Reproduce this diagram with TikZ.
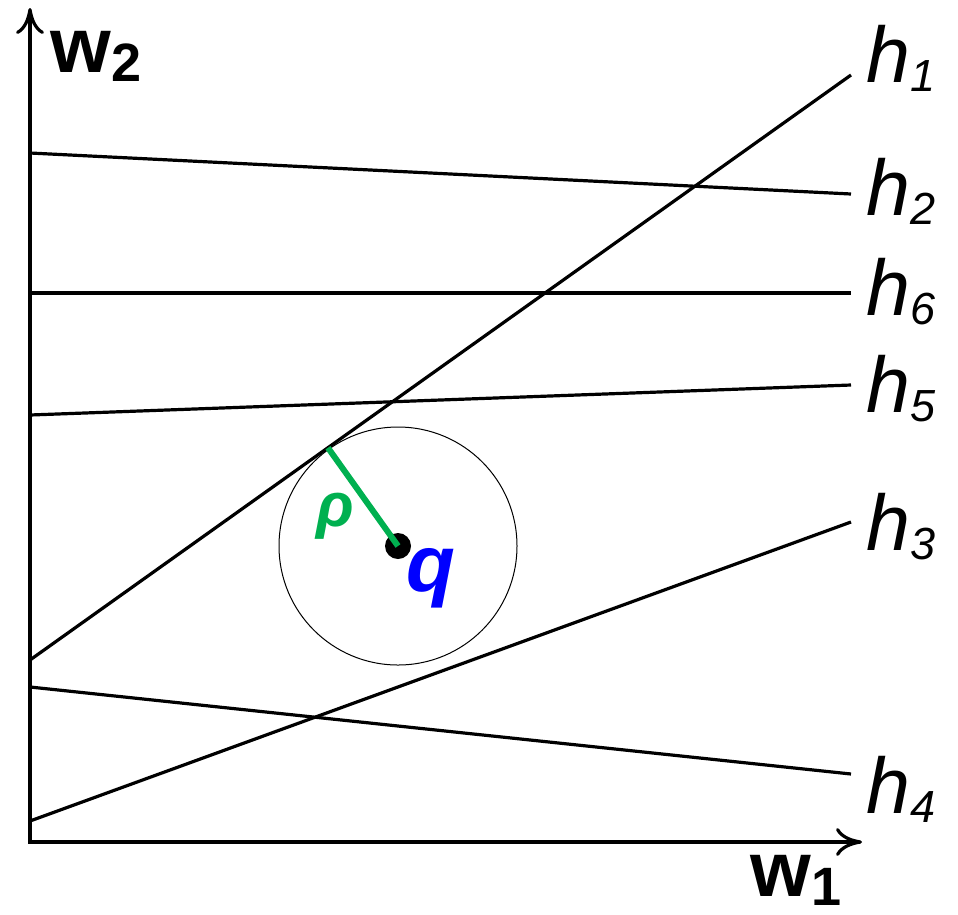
\documentclass[tikz,border=0pt]{standalone}
\usepackage{fontspec}
\setmainfont{Liberation Sans}
\usepackage{tikz}
\usetikzlibrary{arrows.meta,calc}
\definecolor{rhogreen}{RGB}{0,176,80}
\newcommand{\hlab}[1]{\textit{h}\raisebox{-9pt}{\fontsize{45}{45}\selectfont\itshape #1}}
\newcommand{\wlab}[1]{\textbf{w}\raisebox{-9pt}{\fontsize{54}{54}\selectfont\bfseries #1}}

\begin{document}
\begin{tikzpicture}[x=1pt, y=-1pt, hyp/.style={line width=3.2pt}, lab/.style={anchor=base west,inner sep=0pt,font=\fontsize{79}{80}\selectfont}]
\useasboundingbox (0,0) rectangle (958,914);
\coordinate (O) at (30,842); \coordinate (Y) at (30,8); \coordinate (X) at (862,842);
\draw[line width=3.2pt, {Computer Modern Rightarrow[length=26pt,width=28pt]}-{Computer Modern Rightarrow[length=26pt,width=28pt]}] (Y) -- (O) -- (X);
\node[lab,font=\fontsize{78}{80}\selectfont] (w2) at (50,72) {\wlab{2}};
\node[lab,font=\fontsize{78}{80}\selectfont] (w1) at (750,896) {\wlab{1}};
\coordinate (h1s) at (30,660); \coordinate (h1e) at (851,75);
\coordinate (h2s) at (30,153); \coordinate (h2e) at (851,194);
\coordinate (h6s) at (30,293); \coordinate (h6e) at (851,293);
\coordinate (h5s) at (30,415); \coordinate (h5e) at (851,385);
\coordinate (h3s) at (30,821); \coordinate (h3e) at (851,522);
\coordinate (h4s) at (30,687); \coordinate (h4e) at (851,774);
\draw[hyp] (h1s) -- (h1e); \draw[hyp] (h2s) -- (h2e); \draw[hyp] (h6s) -- (h6e);
\draw[hyp] (h5s) -- (h5e); \draw[hyp] (h3s) -- (h3e); \draw[hyp] (h4s) -- (h4e);
\node[lab] (l1) at (866,82) {\hlab{1}};
\node[lab] (l2) at (866,215) {\hlab{2}};
\node[lab] (l6) at (866,315) {\hlab{6}};
\node[lab] (l5) at (866,412) {\hlab{5}};
\node[lab] (l3) at (866,550) {\hlab{3}};
\node[lab] (l4) at (866,813) {\hlab{4}};
\coordinate (q) at (398,546);
\coordinate (t) at ($(h1s)!(q)!(h1e)$);
\draw[line width=1pt] (q) circle (119pt);
\fill (q) circle (13pt);
\draw[rhogreen,line width=6pt] (t) -- (q);
\node[lab,font=\fontsize{62}{64}\selectfont\bfseries\itshape,text=rhogreen] (rho) at (316,526) {ρ};
\node[lab,font=\fontsize{80}{80}\selectfont\bfseries\itshape,text=blue] (qlab) at (406,591) {q};
\end{tikzpicture}
\end{document}
